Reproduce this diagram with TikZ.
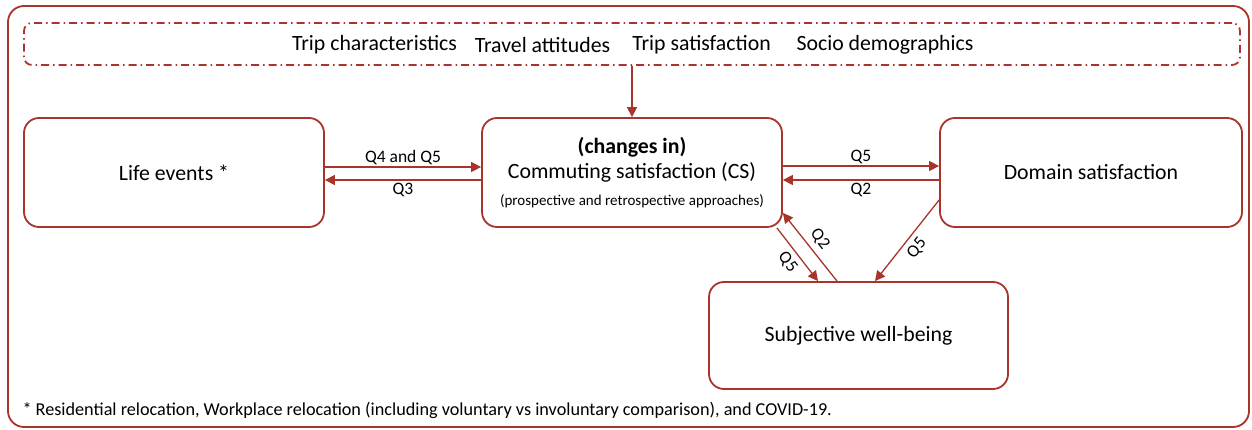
\documentclass[tikz,border=0pt]{standalone}
\usepackage{fontspec}
\setmainfont{Carlito}
\usetikzlibrary{arrows.meta}
\definecolor{rust}{RGB}{168,52,42}
\begin{document}
\begin{tikzpicture}[x=1pt,y=-1pt,
  every node/.style={font=\fontsize{21.8}{26}\selectfont, text=black},
  box/.style={draw=rust, line width=1.8pt, rounded corners=15pt, fill=white, inner sep=0pt},
  factorbox/.style={draw=rust, line width=1.8pt, rounded corners=8pt,
    dash pattern=on 8pt off 4pt on 1.5pt off 4pt, inner sep=0pt},
  link/.style={draw=rust, line width=1.3pt, -{Triangle[length=10pt,width=10pt]}},
  qlabel/.style={font=\fontsize{17.5}{20}\selectfont, inner sep=2pt},
  slopelabel/.style={qlabel, sloped, inner sep=5pt}
]
\useasboundingbox (0,0) rectangle (1252,430);

% outer frame
\node[box, rounded corners=16pt, minimum width=1241pt, minimum height=421pt] (frame) at (628.5,216.5) {};

% influencing factors
\node[factorbox, minimum width=1216pt, minimum height=42pt] (factors) at (632,44) {};
\node (f1) at (374.5,45) {Trip characteristics};
\node (f2) at (542.5,45) {Travel attitudes};
\node (f3) at (701.5,45) {Trip satisfaction};
\node (f4) at (885,45) {Socio demographics};

% main boxes
\node[box, minimum width=300pt, minimum height=109pt] (life) at (174,172.5) {Life events *};
\node[box, minimum width=300pt, minimum height=109pt, align=center] (cs) at (632,172.5)
  {\textbf{(changes in)}\\[-1pt] Commuting satisfaction (CS)\\[1pt]
   {\fontsize{15}{18}\selectfont (prospective and retrospective approaches)}};
\node[box, minimum width=302pt, minimum height=109pt] (dom) at (1091,172.5) {Domain satisfaction};
\node[box, minimum width=299pt, minimum height=107pt] (swb) at (858.5,335.5) {Subjective well-being};

% connectors
\draw[link] (factors.south -| cs.north) -- (cs.north);

\draw[link] ([yshift=5.5pt]life.east) -- node[qlabel, above] {Q4 and Q5} ([yshift=5.5pt]cs.west);
\draw[link] ([yshift=-7.5pt]cs.west) -- node[qlabel, below] {Q3} ([yshift=-7.5pt]life.east);

\draw[link] ([yshift=6.5pt]cs.east) -- node[qlabel, above] {Q5} ([yshift=6.5pt]dom.west);
\draw[link] ([yshift=-7.5pt]dom.west) -- node[qlabel, below] {Q2} ([yshift=-7.5pt]cs.east);

\draw[link] ([xshift=-6pt]cs.south east) -- node[slopelabel, below] {Q5} ([xshift=-40.5pt]swb.north);
\draw[link] ([xshift=-21.5pt]swb.north) -- node[slopelabel, above] {Q2} ([yshift=15pt]cs.south east);
\draw[link] ([yshift=-27.5pt]dom.west) -- node[slopelabel, below] {Q5} ([xshift=16.5pt]swb.north);

% footnote
\node[anchor=west, font=\fontsize{18.2}{21}\selectfont] (note) at (19,410)
  {* Residential relocation, Workplace relocation (including voluntary vs involuntary comparison), and COVID-19.};
\end{tikzpicture}
\end{document}
